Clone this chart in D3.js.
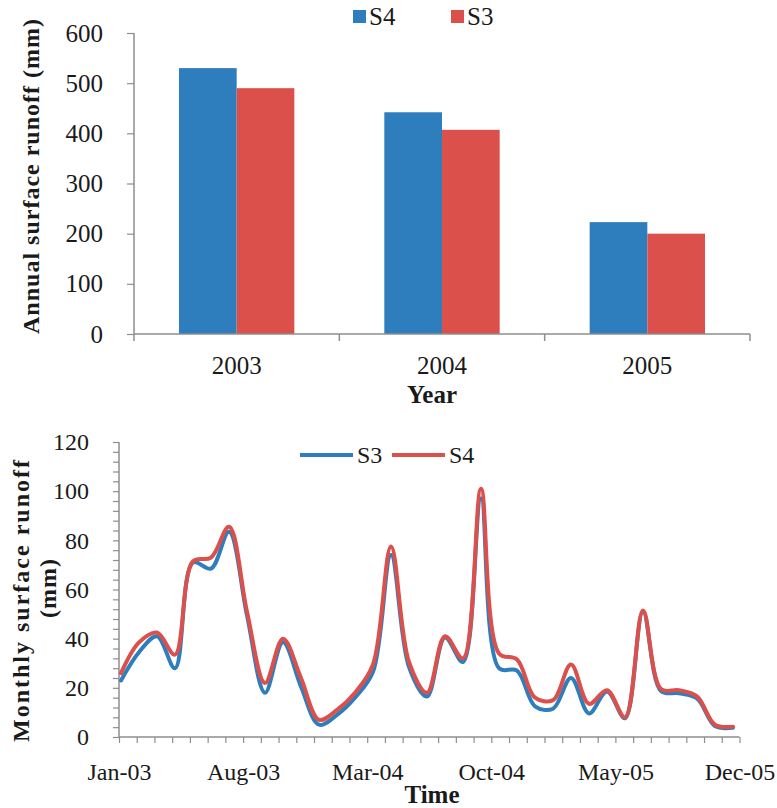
<!DOCTYPE html>
<html><head><meta charset="utf-8">
<script src="https://cdn.jsdelivr.net/npm/d3@7"></script>
<style>
html,body{margin:0;padding:0;background:#fff;}
svg{display:block;}
</style></head>
<body>
<svg id="c" width="777" height="808"></svg>
<script>
// ---- Data: annual bars ----
const years = ["2003", "2004", "2005"];
const barSeries = ["S4", "S3"];
const annualS4 = [530, 442, 223];
const annualS3 = [490, 407, 200];
const annualTicks = [0, 100, 200, 300, 400, 500, 600];

// ---- Data: monthly lines (Jan-03 .. Nov-05) ----
const monthlyS3 = [23, 34.5, 41, 28, 71, 68.5, 83.5, 49.5, 18, 38.5, 20.5, 5,
                   9, 16, 26.5, 74, 28.5, 16.5, 40.5, 30.5, 97, 28, 27, 12.5,
                   11.5, 24, 9.6, 18.5, 7.6, 51, 18.7, 17.8, 15.7, 4.5, 3.8];
const monthlyS4 = [26, 38.5, 42.5, 33.5, 71.5, 73, 85.5, 51, 22, 40, 24, 7,
                   11, 18, 29.5, 77.5, 30.5, 18, 41, 32, 101, 34, 31.5, 16,
                   15, 29.5, 13.5, 19, 8, 51.5, 19.5, 19, 16.5, 5, 4.2];
const monthlyTicks = [0, 20, 40, 60, 80, 100, 120];
const monthLabels = ["Jan-03", "Aug-03", "Mar-04", "Oct-04", "May-05", "Dec-05"];
const monthLabelIndex = [0, 7, 14, 21, 28, 35];

const BLUE = "#2e7ebd", RED = "#dc504c", AXIS = "#8e8e8e", INK = "#1a1a1a";
const FONT = "Liberation Serif";
const svg = d3.select("#c");

// ================= TOP CHART =================
const yTop = d3.scaleLinear().domain([0, 600]).range([334, 33]);
const xTop = d3.scaleBand().domain(years).range([134, 750]).padding(0);
const xSub = d3.scaleBand().domain(barSeries).range([0, xTop.bandwidth()]).paddingInner(0).paddingOuter(0.78);
const color = d3.scaleOrdinal().domain(barSeries).range([BLUE, RED]);

const barData = years.map((y, i) => ({year: y, vals: [{k: "S4", v: annualS4[i]}, {k: "S3", v: annualS3[i]}]}));
const g1 = svg.append("g");
g1.selectAll("g.yr").data(barData).join("g")
  .attr("transform", d => `translate(${xTop(d.year)},0)`)
  .selectAll("rect").data(d => d.vals).join("rect")
  .attr("x", d => xSub(d.k)).attr("width", xSub.bandwidth())
  .attr("y", d => yTop(d.v)).attr("height", d => yTop(0) - yTop(d.v))
  .attr("fill", d => color(d.k));

const yAxTop = g1.append("g").attr("transform", "translate(134,0)")
  .call(d3.axisLeft(yTop).tickValues(annualTicks).tickSize(7).tickPadding(24).tickFormat(d3.format("d")));
const xAxTop = g1.append("g").attr("transform", "translate(0,334)");
xAxTop.append("line").attr("x1", 134).attr("x2", 750).attr("stroke", AXIS).attr("stroke-width", 1.5);
xAxTop.selectAll("line.t").data([134, ...years.map(y => xTop(y) + xTop.bandwidth())]).join("line")
  .attr("class", "t").attr("x1", d => d).attr("x2", d => d).attr("y1", 0).attr("y2", 7)
  .attr("stroke", AXIS).attr("stroke-width", 1.5);
xAxTop.selectAll("text").data(years).join("text")
  .attr("x", d => xTop(d) + xTop.bandwidth() / 2).attr("y", 40)
  .attr("text-anchor", "middle").attr("font-size", 25).attr("fill", INK).text(d => d);

g1.append("text").attr("x", 432).attr("y", 403).attr("text-anchor", "middle")
  .attr("font-size", 25).attr("font-weight", "bold").attr("fill", INK).text("Year");
g1.append("text").attr("transform", "translate(39,176) rotate(-90)").attr("text-anchor", "middle")
  .attr("font-size", 24).attr("font-weight", "bold").attr("fill", INK).attr("letter-spacing", 1)
  .text("Annual surface runoff (mm)");

const lg1 = g1.append("g");
barSeries.forEach((s, i) => {
  const x0 = 353 + i * 98;
  lg1.append("rect").attr("x", x0).attr("y", 10).attr("width", 13).attr("height", 13).attr("fill", color(s));
  lg1.append("text").attr("x", x0 + 16).attr("y", 25).attr("font-size", 25).attr("fill", INK).text(s);
});

// ================= BOTTOM CHART =================
const yB = d3.scaleLinear().domain([0, 120]).range([737, 442]);
const xAx = d3.scaleLinear().domain([0, 35]).range([119, 739.5]);
const xData = d3.scaleLinear().domain([0, 34]).range([121, 733]);

const g2 = svg.append("g");
const yAxB = g2.append("g").attr("transform", "translate(119,0)")
  .call(d3.axisLeft(yB).tickValues(d3.range(0, 121, 4)).tickSize(6).tickPadding(24)
    .tickFormat(d => monthlyTicks.includes(d) ? d : ""));
const xAxB = g2.append("g").attr("transform", "translate(0,737)")
  .call(d3.axisBottom(xAx).tickValues(d3.range(0, 36)).tickSize(6).tickPadding(20)
    .tickFormat(d => { const j = monthLabelIndex.indexOf(d); return j >= 0 ? monthLabels[j] : ""; }));

[yAxTop, yAxB, xAxB].forEach(a => {
  a.select(".domain").attr("stroke", AXIS).attr("stroke-width", 1.5);
  a.selectAll(".tick line").attr("stroke", AXIS).attr("stroke-width", 1.2);
  a.selectAll(".tick text").attr("fill", INK);
});
yAxTop.select(".domain").attr("d", "M0,33V334");
yAxTop.selectAll(".tick text").attr("font-size", 25);
yAxB.selectAll(".tick text").attr("font-size", 24);
xAxB.selectAll(".tick text").attr("font-size", 24);
yAxB.select(".domain").attr("d", "M0,442V737");
xAxB.select(".domain").attr("d", "M119,0H739.5");

const line = d3.line().x((d, i) => xData(i)).y(d => yB(d)).curve(d3.curveCatmullRom.alpha(0.5));
g2.append("path").datum(monthlyS3).attr("d", line).attr("fill", "none").attr("stroke", BLUE)
  .attr("stroke-width", 4).attr("stroke-linejoin", "round").attr("stroke-linecap", "round");
g2.append("path").datum(monthlyS4).attr("d", line).attr("fill", "none").attr("stroke", RED)
  .attr("stroke-width", 4).attr("stroke-linejoin", "round").attr("stroke-linecap", "round");

const lineSeries = [{k: "S3", c: BLUE, x: 300}, {k: "S4", c: RED, x: 392}];
lineSeries.forEach(s => {
  g2.append("line").attr("x1", s.x).attr("x2", s.x + 53).attr("y1", 455).attr("y2", 455)
    .attr("stroke", s.c).attr("stroke-width", 4);
  g2.append("text").attr("x", s.x + 57).attr("y", 463).attr("font-size", 24).attr("fill", INK).text(s.k);
});

g2.append("text").attr("x", 432).attr("y", 803).attr("text-anchor", "middle")
  .attr("font-size", 25).attr("font-weight", "bold").attr("fill", INK).text("Time");
g2.append("text").attr("transform", "translate(29,600) rotate(-90)").attr("text-anchor", "middle")
  .attr("font-size", 24).attr("font-weight", "bold").attr("fill", INK).attr("letter-spacing", 2)
  .text("Monthly surface runoff");
g2.append("text").attr("transform", "translate(56,588) rotate(-90)").attr("text-anchor", "middle")
  .attr("font-size", 24).attr("font-weight", "bold").attr("fill", INK).attr("letter-spacing", 1)
  .text("(mm)");

// Serif font on every text element (axis groups default to sans-serif)
svg.selectAll("g").attr("font-family", FONT);
svg.selectAll("text").attr("font-family", FONT);
</script>
</body></html>
